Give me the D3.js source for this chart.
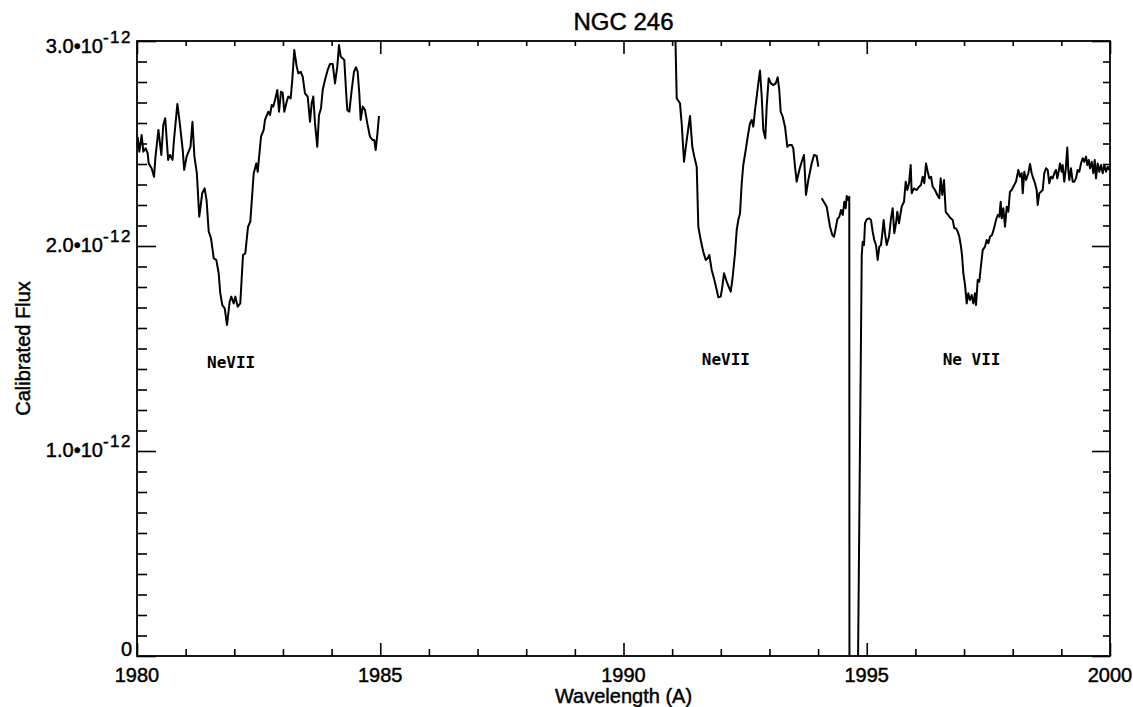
<!DOCTYPE html>
<html>
<head>
<meta charset="utf-8">
<script src="https://cdn.jsdelivr.net/npm/d3@7"></script>
<style>
  body { margin: 0; background: #fff; }
  text { font-family: "Liberation Sans", Arial, Helvetica, sans-serif; fill: #000; }
</style>
</head>
<body>
<script>
// NGC 246, calibrated flux (in units of 1e-12) vs wavelength (A)
// segment 1980 - 1985
var waveA = [1980.014,1980.048,1980.096,1980.130,1980.178,1980.220,1980.240,1980.300,1980.350,1980.380,
  1980.440,1980.500,1980.540,1980.580,1980.640,1980.680,1980.730,1980.760,1980.830,1980.880,
  1980.940,1980.970,1981.020,1981.060,1981.100,1981.140,1981.180,1981.230,1981.280,1981.340,
  1981.390,1981.430,1981.474,1981.521,1981.577,1981.630,1981.679,1981.712,1981.753,1981.803,
  1981.850,1981.905,1981.938,1981.988,1982.021,1982.070,1982.123,1982.179,1982.226,1982.282,
  1982.329,1982.399,1982.452,1982.481,1982.549,1982.604,1982.631,1982.699,1982.734,1982.769,
  1982.802,1982.837,1982.884,1982.919,1982.960,1982.995,1983.028,1983.077,1983.110,1983.159,
  1983.192,1983.233,1983.283,1983.316,1983.365,1983.406,1983.453,1983.509,1983.556,1983.591,
  1983.624,1983.659,1983.706,1983.741,1983.782,1983.817,1983.864,1983.920,1983.967,1984.023,
  1984.070,1984.117,1984.152,1984.187,1984.228,1984.261,1984.296,1984.323,1984.364,1984.413,
  1984.460,1984.502,1984.536,1984.569,1984.598,1984.639,1984.687,1984.734,1984.789,1984.845,
  1984.878,1984.906,1984.939,1984.974];
var fluxA = [2.533,2.460,2.541,2.460,2.477,2.452,2.403,2.379,2.338,2.436,
  2.566,2.444,2.590,2.623,2.420,2.444,2.420,2.517,2.693,2.598,
  2.468,2.371,2.436,2.460,2.484,2.606,2.436,2.355,2.143,2.257,
  2.281,2.224,2.070,2.038,1.940,1.932,1.867,1.769,1.712,1.696,
  1.615,1.728,1.753,1.720,1.753,1.704,1.720,1.956,1.964,2.094,
  2.119,2.355,2.403,2.362,2.533,2.566,2.615,2.655,2.639,2.688,
  2.680,2.712,2.761,2.655,2.753,2.746,2.655,2.704,2.729,2.720,
  2.810,2.956,2.875,2.842,2.850,2.826,2.745,2.729,2.606,2.696,
  2.729,2.598,2.484,2.639,2.671,2.761,2.810,2.859,2.888,2.888,
  2.793,2.875,2.980,2.924,2.915,2.907,2.761,2.663,2.655,2.761,
  2.850,2.872,2.850,2.745,2.615,2.680,2.663,2.598,2.533,2.517,
  2.517,2.468,2.541,2.634];

// segment 1991 - 1994
var waveB = [1991.059,1991.094,1991.161,1991.196,1991.244,1991.299,1991.367,1991.414,1991.455,1991.505,
  1991.538,1991.587,1991.640,1991.690,1991.731,1991.764,1991.813,1991.860,1991.901,1991.949,
  1991.998,1992.031,1992.066,1992.121,1992.163,1992.204,1992.245,1992.292,1992.327,1992.360,
  1992.395,1992.430,1992.462,1992.512,1992.553,1992.600,1992.635,1992.668,1992.703,1992.738,
  1992.771,1992.806,1992.841,1992.874,1992.915,1992.943,1992.984,1993.032,1993.079,1993.128,
  1993.169,1993.202,1993.231,1993.272,1993.320,1993.367,1993.408,1993.457,1993.490,1993.525,
  1993.560,1993.614,1993.663,1993.710,1993.751,1993.799,1993.868,1993.916,1993.971,1994.004];
var fluxB = [3.100,2.720,2.696,2.598,2.411,2.517,2.634,2.484,2.436,2.387,
  2.094,2.029,1.972,1.932,1.940,1.956,1.883,1.842,1.801,1.750,
  1.753,1.801,1.867,1.826,1.801,1.777,1.850,1.964,2.078,2.127,
  2.159,2.306,2.395,2.468,2.533,2.598,2.615,2.582,2.663,2.729,
  2.793,2.856,2.729,2.566,2.525,2.680,2.818,2.793,2.785,2.793,
  2.823,2.761,2.655,2.631,2.582,2.484,2.493,2.493,2.476,2.387,
  2.314,2.371,2.411,2.444,2.249,2.322,2.403,2.444,2.439,2.387];

// segment 1994 - 2000 (with the deep drop near 1994.7)
var waveC = [1994.074,1994.177,1994.210,1994.245,1994.292,1994.327,1994.362,1994.395,1994.436,1994.471,
  1994.506,1994.539,1994.567,1994.588,1994.621,1994.641,1994.645,1994.810,1994.897,1994.917,
  1994.944,1994.964,1994.999,1995.046,1995.087,1995.122,1995.155,1995.190,1995.225,1995.258,
  1995.293,1995.320,1995.348,1995.375,1995.410,1995.457,1995.498,1995.533,1995.566,1995.601,
  1995.628,1995.663,1995.718,1995.766,1995.801,1995.834,1995.869,1995.903,1995.924,1995.971,
  1996.027,1996.074,1996.115,1996.150,1996.183,1996.218,1996.253,1996.286,1996.321,1996.356,
  1996.403,1996.450,1996.491,1996.520,1996.553,1996.588,1996.623,1996.676,1996.726,1996.767,
  1996.800,1996.835,1996.870,1996.903,1996.937,1996.958,1996.985,1997.020,1997.055,1997.087,
  1997.122,1997.157,1997.190,1997.225,1997.246,1997.281,1997.313,1997.342,1997.383,1997.431,
  1997.466,1997.499,1997.534,1997.575,1997.616,1997.657,1997.692,1997.725,1997.753,1997.774,
  1997.807,1997.842,1997.877,1997.910,1997.944,1997.979,1998.012,1998.068,1998.115,1998.150,
  1998.185,1998.206,1998.238,1998.273,1998.321,1998.356,1998.390,1998.423,1998.458,1998.493,
  1998.513,1998.546,1998.581,1998.616,1998.649,1998.684,1998.719,1998.752,1998.787,1998.822,
  1998.855,1998.890,1998.916,1998.951,1998.972,1999.007,1999.027,1999.060,1999.089,1999.122,
  1999.143,1999.163,1999.198,1999.233,1999.266,1999.301,1999.336,1999.369,1999.404,1999.439,
  1999.472,1999.507,1999.534,1999.563,1999.589,1999.624,1999.657,1999.686,1999.712,1999.747,
  1999.780,1999.815,1999.850,1999.883,1999.918,1999.953,1999.986];
var fluxC = [2.233,2.192,2.143,2.094,2.054,2.045,2.086,2.130,2.143,2.176,
  2.151,2.216,2.184,2.244,2.224,2.240,-0.300,-0.300,1.956,2.021,
  2.005,2.111,2.130,2.135,2.127,2.070,2.029,2.005,1.932,1.997,
  2.005,2.062,2.127,2.062,2.005,2.045,2.135,2.184,2.062,2.111,
  2.167,2.111,2.192,2.216,2.314,2.273,2.306,2.395,2.257,2.281,
  2.273,2.289,2.298,2.338,2.306,2.403,2.362,2.330,2.338,2.289,
  2.273,2.249,2.233,2.330,2.249,2.322,2.167,2.151,2.135,2.127,
  2.086,2.086,2.070,2.045,1.997,1.956,1.867,1.810,1.720,1.769,
  1.737,1.761,1.720,1.769,1.712,1.834,1.826,1.891,1.980,1.997,
  2.029,2.013,2.045,2.054,2.086,2.127,2.151,2.143,2.216,2.135,
  2.184,2.094,2.192,2.167,2.265,2.273,2.289,2.314,2.371,2.338,
  2.355,2.257,2.362,2.322,2.355,2.400,2.355,2.330,2.306,2.273,
  2.200,2.257,2.265,2.273,2.355,2.379,2.371,2.306,2.338,2.330,
  2.355,2.371,2.330,2.371,2.403,2.362,2.395,2.314,2.371,2.481,
  2.371,2.322,2.379,2.314,2.314,2.330,2.371,2.362,2.403,2.428,
  2.411,2.436,2.395,2.420,2.379,2.411,2.355,2.420,2.330,2.403,
  2.362,2.395,2.355,2.395,2.362,2.387,2.371];

var xTicks = [1980, 1985, 1990, 1995, 2000];
var yTicks = [0, 1, 2, 3];
var yTickMantissa = ["0", "1.0\u202210", "2.0\u202210", "3.0\u202210"];
var yTickExponent = ["", "-12", "-12", "-12"];

var lineNames = ["NeVII", "NeVII", "Ne VII"];
var lineNameWave = [1981.44, 1991.61, 1996.56];
var lineNameFlux = [1.405, 1.42, 1.42];

var width = 1133, height = 707;
var margin = {top: 41, right: 23, bottom: 51, left: 137};

var svg = d3.select("body").append("svg")
    .attr("width", width)
    .attr("height", height);

var x = d3.scaleLinear().domain([1980, 2000]).range([margin.left, width - margin.right]);
var y = d3.scaleLinear().domain([0, 3]).range([height - margin.bottom, margin.top]);

svg.append("clipPath").attr("id", "plotclip")
  .append("rect")
    .attr("x", x(1980))
    .attr("y", y(3))
    .attr("width", x(2000) - x(1980))
    .attr("height", y(0) - y(3));

// spectrum
var line = d3.line()
    .x(function(d) { return x(d[0]); })
    .y(function(d) { return y(d[1]); });

[[waveA, fluxA], [waveB, fluxB], [waveC, fluxC]].forEach(function(s) {
  svg.append("path")
      .datum(d3.zip(s[0], s[1]))
      .attr("d", line)
      .attr("fill", "none")
      .attr("stroke", "#000")
      .attr("stroke-width", 2)
      .attr("stroke-linejoin", "round")
      .attr("clip-path", "url(#plotclip)");
});

// ticks
var minorX = d3.range(1980, 2001).filter(function(v) { return v % 5 !== 0; });
var minorY = d3.range(0, 31).filter(function(i) { return i % 10 !== 0; }).map(function(i) { return i / 10; });

function ticks(axis, vals, size, tx, ty) {
  var g = svg.append("g")
      .attr("transform", "translate(" + tx + "," + ty + ")")
      .call(axis.tickValues(vals).tickSize(-size).tickFormat(""));
  g.select(".domain").remove();
  g.selectAll("line").attr("stroke", "#000").attr("stroke-width", 1.6);
  return g;
}

ticks(d3.axisBottom(x), minorX, 7, 0, y(0));
ticks(d3.axisBottom(x), xTicks, 13, 0, y(0));
ticks(d3.axisTop(x), minorX, 5, 0, y(3));
ticks(d3.axisTop(x), xTicks, 13, 0, y(3));
ticks(d3.axisLeft(y), minorY, 10, x(1980), 0);
ticks(d3.axisLeft(y), yTicks, 19, x(1980), 0);
ticks(d3.axisRight(y), minorY, 7, x(2000), 0);
ticks(d3.axisRight(y), yTicks, 18, x(2000), 0);

// frame
svg.append("rect")
    .attr("x", x(1980))
    .attr("y", y(3))
    .attr("width", x(2000) - x(1980))
    .attr("height", y(0) - y(3))
    .attr("fill", "none")
    .attr("stroke", "#000")
    .attr("stroke-width", 1.8);

// heavier text, like the scanned original
function heavy(sel) {
  sel.style("stroke", "#000").style("stroke-width", "0.45px");
}

// x tick labels
svg.selectAll(".xlab")
    .data(xTicks)
    .enter().append("text")
    .attr("class", "xlab")
    .attr("x", function(d) { return x(d); })
    .attr("y", y(0) + 26)
    .attr("text-anchor", "middle")
    .style("font-size", "20px")
    .call(heavy)
    .text(function(d) { return d; });

// y tick labels, with superscript exponent
var ylab = svg.selectAll(".ylab")
    .data(yTicks)
    .enter().append("text")
    .attr("class", "ylab")
    .attr("x", x(1980) - 5)
    .attr("y", function(d, i) {
      if (d === 3) return y(d) + 12;
      if (d === 0) return y(d);
      return y(d) + 6;
    })
    .attr("text-anchor", "end")
    .style("font-size", "20px")
    .call(heavy);
ylab.append("tspan").text(function(d, i) { return yTickMantissa[i]; });
ylab.append("tspan")
    .attr("dy", -10)
    .style("font-size", "17px")
    .style("letter-spacing", "1.5px")
    .text(function(d, i) { return yTickExponent[i]; });

// line identifications
svg.selectAll(".ion")
    .data(lineNames)
    .enter().append("text")
    .attr("class", "ion")
    .attr("x", function(d, i) { return x(lineNameWave[i]); })
    .attr("y", function(d, i) { return y(lineNameFlux[i]); })
    .style("font-family", "'DejaVu Sans Mono', monospace")
    .style("font-size", "16px")
    .style("font-weight", "bold")
    .text(function(d) { return d; });

// titles
svg.append("text")
    .attr("x", (x(1980) + x(2000)) / 2)
    .attr("y", 30)
    .attr("text-anchor", "middle")
    .style("font-size", "24px")
    .call(heavy)
    .text("NGC 246");

svg.append("text")
    .attr("transform", "translate(30," + ((y(0) + y(3)) / 2) + ") rotate(-90)")
    .attr("text-anchor", "middle")
    .style("font-size", "20px")
    .call(heavy)
    .text("Calibrated Flux");

svg.append("text")
    .attr("x", (x(1980) + x(2000)) / 2)
    .attr("y", 703)
    .attr("text-anchor", "middle")
    .style("font-size", "20px")
    .call(heavy)
    .text("Wavelength (A)");
</script>
</body>
</html>
